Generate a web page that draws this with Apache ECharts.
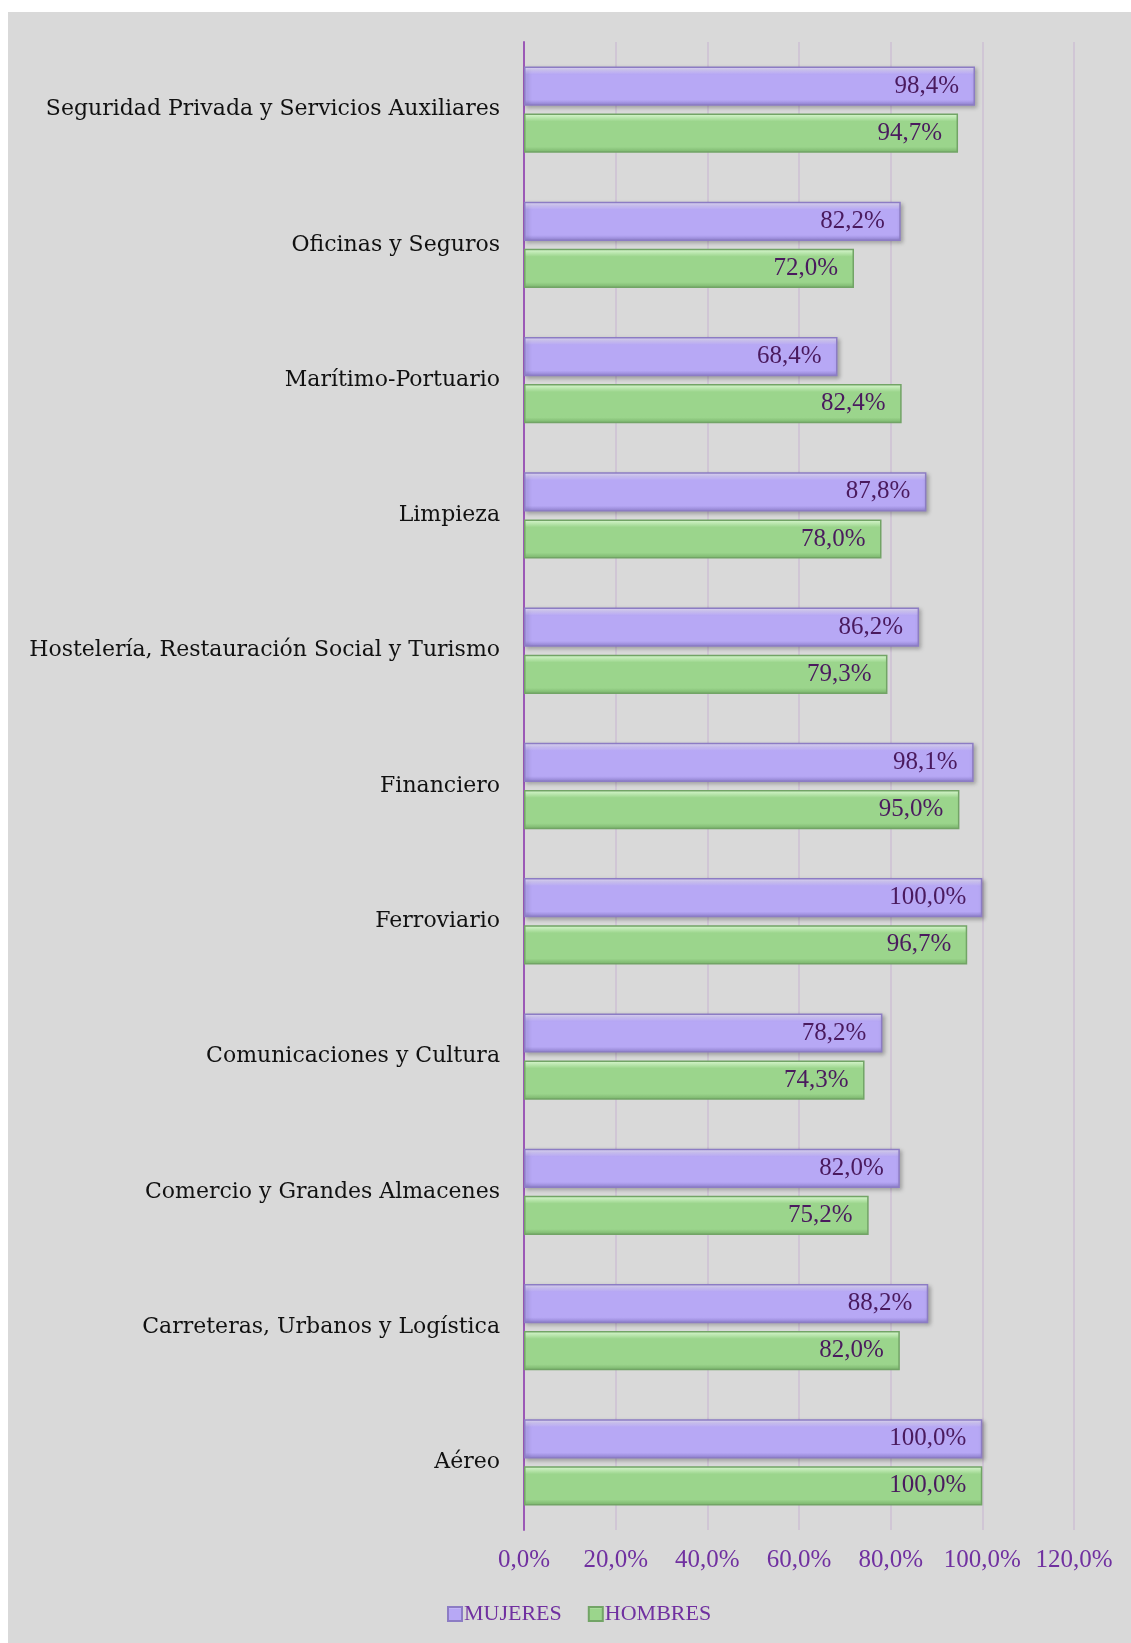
<!DOCTYPE html>
<html>
<head>
<meta charset="utf-8">
<script src="https://cdn.jsdelivr.net/npm/echarts@6/dist/echarts.min.js"></script>
<style>
  html, body { margin: 0; padding: 0; background: #ffffff; }
  #wrap { position: absolute; left: 8px; top: 12px; width: 1123px; height: 1631px; background: #d9d9d9; }
  #chart { width: 1123px; height: 1631px; }
</style>
</head>
<body>
<div id="wrap"><div id="chart"></div></div>
<script>
// categorias de abajo hacia arriba (como en Excel)
const categorias = [
  "Aéreo",
  "Carreteras, Urbanos y Logística",
  "Comercio y Grandes Almacenes",
  "Comunicaciones y Cultura",
  "Ferroviario",
  "Financiero",
  "Hostelería, Restauración Social y Turismo",
  "Limpieza",
  "Marítimo-Portuario",
  "Oficinas y Seguros",
  "Seguridad Privada y Servicios Auxiliares"
];
const mujeres = [100.0, 88.2, 82.0, 78.2, 100.0, 98.1, 86.2, 87.8, 68.4, 82.2, 98.4];
const hombres = [100.0, 82.0, 75.2, 74.3, 96.7, 95.0, 79.3, 78.0, 82.4, 72.0, 94.7];
const ticks = [0, 20, 40, 60, 80, 100, 120];

const serifAncha = "'DejaVu Serif', serif";
const serif = "'Liberation Serif', 'DejaVu Serif', serif";
const pct = v => v.toFixed(1).replace(".", ",") + "%";

function bisel(claro, medio, oscuro) {
  return new echarts.graphic.LinearGradient(0, 0, 0, 1, [
    { offset: 0, color: claro },
    { offset: 0.2, color: medio },
    { offset: 0.85, color: medio },
    { offset: 1, color: oscuro }
  ]);
}

const etiqueta = {
  show: true,
  position: "insideRight",
  distance: 16,
  color: "#4a1a5e",
  fontFamily: serif,
  fontSize: 25,
  formatter: p => pct(p.value)
};

const chart = echarts.init(document.getElementById("chart"));

const option = {
  animation: false,
  grid: { left: 516, right: 57, top: 30, bottom: 113, containLabel: false, outerBoundsMode: "none" },
  legend: {
    data: ["MUJERES", "HOMBRES"],
    bottom: 13,
    left: 434,
    itemWidth: 14,
    itemHeight: 14,
    itemGap: 26,
    icon: "rect",
    textStyle: { color: "#7030a0", fontFamily: serif, fontSize: 22, padding: [0, 0, 0, -3] }
  },
  xAxis: {
    type: "value",
    min: ticks[0],
    max: ticks[ticks.length - 1],
    interval: 20,
    axisLine: { show: false },
    axisTick: { show: false },
    splitLine: { show: true, lineStyle: { color: "#cdbfd3", width: 1.5 } },
    axisLabel: {
      color: "#7030a0",
      fontFamily: serif,
      fontSize: 25,
      margin: 18,
      formatter: v => pct(v)
    }
  },
  yAxis: {
    type: "category",
    data: categorias,
    axisLine: { show: true, lineStyle: { color: "#9b59b6", width: 2 } },
    axisTick: { show: false },
    axisLabel: {
      color: "#111111",
      fontFamily: serifAncha,
      fontSize: 22,
      margin: 24,
      padding: [5, 0, 0, 0]
    }
  },
  series: [
    {
      name: "MUJERES",
      type: "bar",
      data: mujeres,
      barWidth: "29%",
      barGap: "20%",
      itemStyle: {
        color: bisel("#ece6ff", "#b7a8f5", "#8f80cf"),
        borderColor: "#8c7cc4",
        borderWidth: 1.5,
        shadowColor: "rgba(0,0,0,0.25)",
        shadowBlur: 4,
        shadowOffsetX: 2,
        shadowOffsetY: 2
      },
      label: etiqueta
    },
    {
      name: "HOMBRES",
      type: "bar",
      data: hombres,
      barWidth: "29%",
      barGap: "20%",
      itemStyle: {
        color: bisel("#dcf9d3", "#9bd58c", "#76b068"),
        borderColor: "#72a466",
        borderWidth: 1.5
      },
      label: etiqueta
    }
  ]
};

chart.setOption(option);
</script>
</body>
</html>
